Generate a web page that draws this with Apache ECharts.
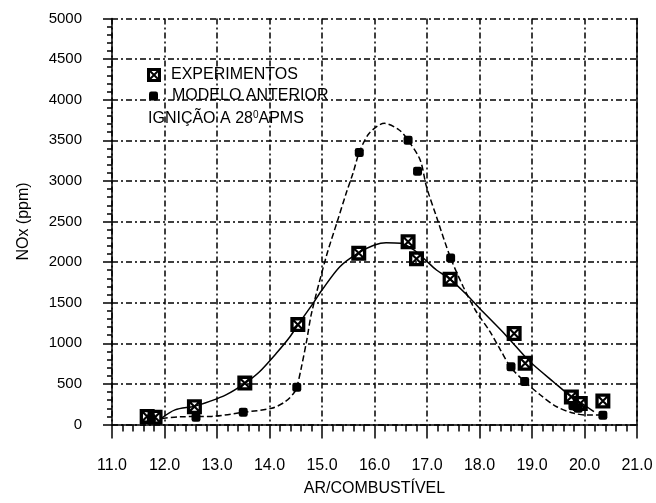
<!DOCTYPE html>
<html>
<head>
<meta charset="utf-8">
<script src="https://cdn.jsdelivr.net/npm/echarts@6/dist/echarts.min.js"></script>
<style>
  html, body { margin: 0; padding: 0; background: #fff; }
  #chart { width: 656px; height: 503px; }
</style>
</head>
<body>
<div id="chart"></div>
<script>
// pontos experimentais (AR/COMBUSTIVEL, NOx ppm)
var experimentos = [
  [11.67, 100], [11.82, 90], [12.57, 220], [13.53, 510], [14.54, 1230],
  [15.7, 2110], [16.64, 2250], [16.8, 2040], [17.44, 1790], [18.66, 1120],
  [18.87, 755], [19.75, 340], [19.92, 260], [20.35, 290]
];
// modelo anterior (pontos)
var modeloAnterior = [
  [11.75, 70], [12.6, 88], [13.5, 150], [14.52, 460], [15.71, 3350],
  [16.64, 3500], [16.82, 3120], [17.45, 2050], [18.6, 710], [18.86, 530],
  [19.78, 230], [19.88, 200], [20.35, 115]
];
// curva ajustada aos experimentos
var curvaExperimentos = [
  [11.94, 76], [12.2, 180], [12.57, 225], [12.86, 285], [13.17, 365],
  [13.53, 507], [13.81, 650], [14.13, 877], [14.39, 1081], [14.54, 1225],
  [14.83, 1492], [15.0, 1656], [15.34, 1943], [15.7, 2116], [16.0, 2210],
  [16.22, 2239], [16.5, 2231], [16.75, 2150], [16.97, 2026], [17.18, 1903],
  [17.44, 1790], [17.76, 1595], [18.0, 1431], [18.5, 1100], [18.87, 835],
  [19.03, 733], [19.4, 530], [19.75, 342], [20.0, 240], [20.18, 158]
];
// curva do modelo anterior
var curvaModelo = [
  [11.95, 75], [12.3, 95], [12.9, 100], [13.5, 150], [14.04, 200],
  [14.3, 281], [14.46, 384], [14.52, 460], [14.61, 712], [14.71, 1040],
  [14.8, 1369], [15.08, 2067], [15.3, 2518], [15.46, 2847], [15.59, 3094],
  [15.71, 3350], [15.9, 3586], [16.19, 3709], [16.47, 3627], [16.64, 3500],
  [16.87, 3257], [16.99, 2929], [17.18, 2559], [17.45, 2050], [17.69, 1697],
  [17.92, 1410], [18.2, 1143], [18.4, 917], [18.6, 700], [18.9, 507],
  [19.16, 363], [19.47, 219], [19.8, 138], [20.05, 117], [20.33, 117]
];

var fonte = 'Liberation Sans';
// quadrado com X
var simboloX = 'path://M0,0H10V10H0Z M2.2,2.2V7.8H7.8V2.2Z M2.2,2.2L3.2,2.2L7.8,6.8L7.8,7.8L6.8,7.8L2.2,3.2Z M7.8,2.2L7.8,3.2L3.2,7.8L2.2,7.8L2.2,6.8L6.8,2.2Z';
var grade = { show: true, lineStyle: { color: '#000', width: 1.5, type: [6, 3, 2, 3] } };

var myChart = echarts.init(document.getElementById('chart'));
var option = {
  animation: false,
  backgroundColor: '#fff',
  textStyle: { fontFamily: fonte, color: '#000' },
  grid: { left: 112, right: 19, top: 18.5, bottom: 78.5 },
  title: {
    left: 148, top: 110, padding: 0,
    text: '{a|IGNIÇÃO A 28}{b|0}{a|APMS}',
    textStyle: {
      fontWeight: 'normal',
      rich: {
        a: { fontFamily: fonte, fontSize: 16, fontWeight: 'normal', color: '#000', lineHeight: 18 },
        b: { fontFamily: fonte, fontSize: 10, fontWeight: 'normal', color: '#000', verticalAlign: 'top' }
      }
    }
  },
  legend: [{
    left: 147, top: 67, padding: 0, itemWidth: 14, itemHeight: 14,
    data: ['EXPERIMENTOS'],
    textStyle: { fontFamily: fonte, fontSize: 16, color: '#000', padding: [0, 0, 0, 5] }
  }, {
    left: 149, top: 88, padding: 0, itemWidth: 9, itemHeight: 9,
    data: ['MODELO ANTERIOR'],
    textStyle: { fontFamily: fonte, fontSize: 16, color: '#000', padding: [0, 0, 0, 9] }
  }],
  xAxis: {
    type: 'value', min: 11, max: 21, interval: 1,
    name: 'AR/COMBUSTÍVEL', nameLocation: 'middle', nameGap: 56,
    nameTextStyle: { fontFamily: fonte, fontSize: 16, color: '#000' },
    axisLine: { lineStyle: { color: '#000', width: 1.5 } },
    axisTick: { inside: false, length: 14, lineStyle: { color: '#000', width: 1.5 } },
    minorTick: { show: true, splitNumber: 5, length: 7, lineStyle: { color: '#000', width: 1.5 } },
    axisLabel: { margin: 33, fontSize: 16, color: '#000', fontFamily: fonte,
      formatter: function (v) { return v.toFixed(1); } },
    splitLine: grade
  },
  yAxis: [{
    type: 'value', min: 0, max: 5000, interval: 500,
    name: 'NOx (ppm)', nameLocation: 'middle', nameGap: 80,
    nameTextStyle: { fontFamily: fonte, fontSize: 16, color: '#000' },
    axisLine: { show: true, lineStyle: { color: '#000', width: 1.5 } },
    axisTick: { show: true, inside: false, length: 9, lineStyle: { color: '#000', width: 1.5 } },
    minorTick: { show: true, splitNumber: 5, length: 5, lineStyle: { color: '#000', width: 1.5 } },
    axisLabel: { margin: 30, fontSize: 15, color: '#000', fontFamily: fonte,
      formatter: function (v) { return String(v); } },
    splitLine: grade
  }, {
    type: 'value', min: 0, max: 5000, position: 'right',
    axisLine: { show: true, lineStyle: { color: '#000', width: 1.5 } },
    axisTick: { show: false }, axisLabel: { show: false }, splitLine: { show: false }
  }],
  series: [{
    name: 'curvaExp', type: 'line', data: curvaExperimentos,
    smooth: 0.3, showSymbol: false, silent: true,
    lineStyle: { color: '#000', width: 1.5 }, z: 2
  }, {
    name: 'curvaMod', type: 'line', data: curvaModelo,
    smooth: 0.3, showSymbol: false, silent: true,
    lineStyle: { color: '#000', width: 1.5, type: [6, 3] }, z: 2
  }, {
    name: 'MODELO ANTERIOR', type: 'scatter', data: modeloAnterior,
    symbol: 'roundRect', symbolSize: 9,
    itemStyle: { color: '#000', opacity: 1 }, z: 3
  }, {
    name: 'EXPERIMENTOS', type: 'scatter', data: experimentos,
    symbol: simboloX, symbolSize: 15,
    itemStyle: { color: '#000', opacity: 1 }, z: 4
  }]
};
myChart.setOption(option);
</script>
</body>
</html>
